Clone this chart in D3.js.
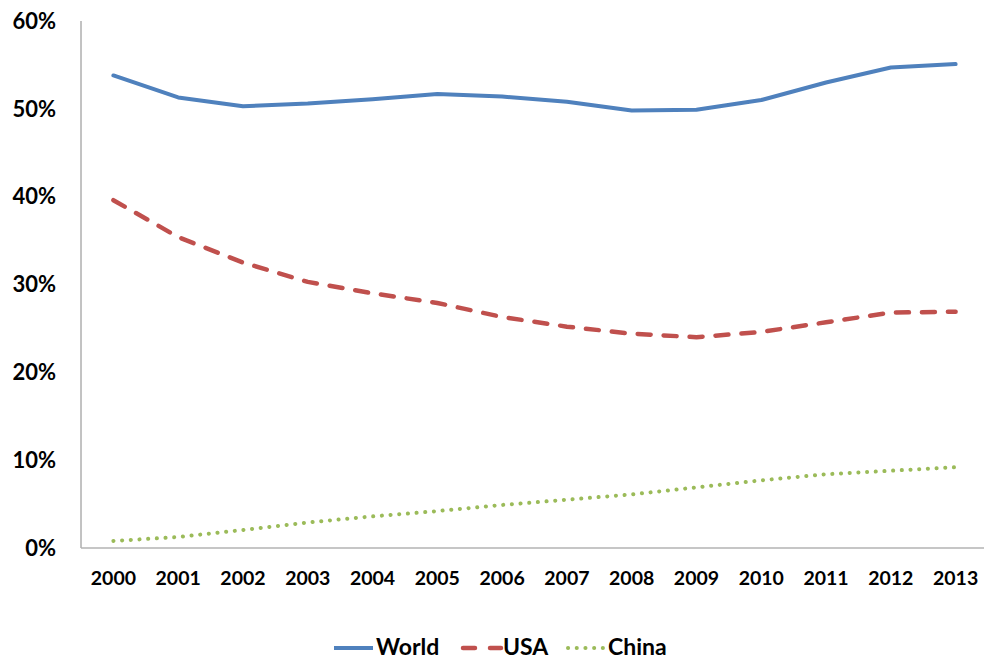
<!DOCTYPE html>
<html><head><meta charset="utf-8">
<script src="https://cdn.jsdelivr.net/npm/d3@7"></script>
<style>body{margin:0;background:#fff;} text{font-family:Lato,"Open Sans",sans-serif;font-weight:bold;fill:#000;}</style>
</head><body><svg id="c" width="984" height="660"></svg>
<script>
const years = ["2000","2001","2002","2003","2004","2005","2006","2007","2008","2009","2010","2011","2012","2013"];
const world = [53.8,51.3,50.3,50.6,51.1,51.7,51.4,50.8,49.8,49.9,51.0,53.0,54.7,55.1];
const usa   = [39.6,35.4,32.5,30.3,29.0,27.9,26.3,25.2,24.4,24.0,24.6,25.7,26.8,26.9];
const china = [0.8,1.25,2.05,2.9,3.6,4.2,4.9,5.5,6.1,6.9,7.7,8.4,8.8,9.2];
const yTicks = [0,10,20,30,40,50,60];
const seriesNames = ["World","USA","China"];

const svg = d3.select("#c");
const x = d3.scaleBand().domain(years).range([81, 988]);
const y = d3.scaleLinear().domain([0, 60]).range([548, 21]);
const cx = d => x(d) + x.bandwidth()/2;

svg.append("line").attr("x1",81).attr("x2",81).attr("y1",y(60)).attr("y2",y(0)).attr("stroke","#868686").attr("stroke-width",1);
svg.append("line").attr("x1",81).attr("x2",988).attr("y1",y(0)).attr("y2",y(0)).attr("stroke","#b3b3b3").attr("stroke-width",1.5);

svg.selectAll(".yt").data(yTicks).enter().append("text")
  .attr("x",56).attr("y",d=>y(d)).attr("dy","0.35em").attr("text-anchor","end")
  .style("font-size","22px").text(d=>d+"%");
svg.selectAll(".xt").data(years).enter().append("text")
  .attr("x",d=>cx(d)).attr("y",578).attr("dy","0.35em").attr("text-anchor","middle")
  .style("font-size","19.5px").text(d=>d);

const line = d3.line().x((d,i)=>cx(years[i])).y(d=>y(d));
const styles = [
  {data:world, color:"#4F81BD", dash:null, w:4, cap:"round"},
  {data:usa, color:"#C0504D", dash:"13 13", w:4.5, cap:"round"},
  {data:china, color:"#9BBB59", dash:"0.1 8.6", w:4, cap:"round"}
];
styles.forEach(s=>{
  svg.append("path").datum(s.data).attr("d",line).attr("fill","none")
    .attr("stroke",s.color).attr("stroke-width",s.w).attr("stroke-linecap",s.cap)
    .attr("stroke-linejoin","round").attr("stroke-dasharray",s.dash);
});

const leg = [
  {name:seriesNames[0], x1:334, x2:373, tx:376},
  {name:seriesNames[1], x1:463, x2:501, tx:503},
  {name:seriesNames[2], x1:568, x2:604, tx:608}
];
leg.forEach((l,i)=>{
  const s = styles[i];
  svg.append("line").attr("x1",l.x1).attr("x2",l.x2).attr("y1",648).attr("y2",648)
    .attr("stroke",s.color).attr("stroke-width",s.w).attr("stroke-linecap",i==0?"butt":"round")
    .attr("stroke-dasharray",i==1?"12 15":s.dash);
  svg.append("text").attr("x",l.tx).attr("y",647).attr("dy","0.35em").style("font-size","23px").text(l.name);
});
</script></body></html>
